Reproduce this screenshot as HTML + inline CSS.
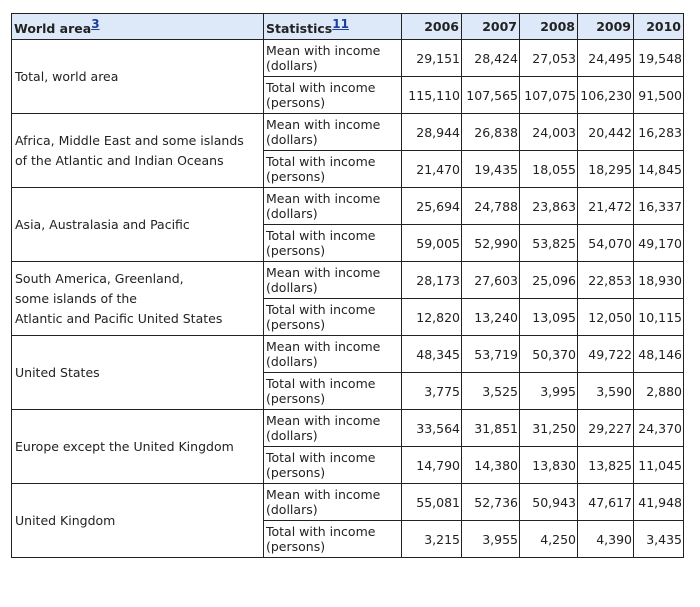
<!DOCTYPE html>
<html><head><meta charset="utf-8"><style>
body{margin:0;background:#fff;width:700px;height:607px;overflow:hidden;font-family:"DejaVu Sans","Liberation Sans",sans-serif;}
table{position:absolute;left:11px;top:13px;border-collapse:collapse;table-layout:fixed;width:672px;font-size:12.5px;color:#222;}
td,th{border:1px solid #222;padding:0 2px;overflow:hidden;white-space:nowrap;}
th{background:#dde9f8;height:25px;font-weight:bold;text-align:right;font-size:12.5px;}
th.l{text-align:left;}
td{height:36px;line-height:15px;}
td.n{text-align:right;padding-right:1px;}
td.s{padding-left:3px;}
sup a{color:#1a3e9c;text-decoration:underline;font-size:12px;}
</style></head><body>
<table>
<colgroup><col style="width:252px"><col style="width:138px"><col style="width:60px"><col style="width:58px"><col style="width:58px"><col style="width:56px"><col style="width:50px"></colgroup>
<thead><tr>
<th class="l">World area<sup><a>3</a></sup></th>
<th class="l">Statistics<sup><a>11</a></sup></th>
<th>2006</th>
<th>2007</th>
<th>2008</th>
<th>2009</th>
<th>2010</th>
</tr></thead>
<tbody id="tb"></tbody>
</table>
<script>
const areas=[["Total, world area"],["Africa, Middle East and some islands","of the Atlantic and Indian Oceans"],["Asia, Australasia and Pacific"],["South America, Greenland,","some islands of the","Atlantic and Pacific United States"],["United States"],["Europe except the United Kingdom"],["United Kingdom"]];
const meanVals=[[29151,28424,27053,24495,19548],[28944,26838,24003,20442,16283],[25694,24788,23863,21472,16337],[28173,27603,25096,22853,18930],[48345,53719,50370,49722,48146],[33564,31851,31250,29227,24370],[55081,52736,50943,47617,41948]];
const totalVals=[[115110,107565,107075,106230,91500],[21470,19435,18055,18295,14845],[59005,52990,53825,54070,49170],[12820,13240,13095,12050,10115],[3775,3525,3995,3590,2880],[14790,14380,13830,13825,11045],[3215,3955,4250,4390,3435]];
const stats=["Mean with income<br>(dollars)","Total with income<br>(persons)"];
const tb=document.getElementById('tb');
areas.forEach((a,i)=>{
 [meanVals[i],totalVals[i]].forEach((vals,k)=>{
  const tr=document.createElement('tr');
  
  
  if(k===0){
   const td=document.createElement('td');
   td.rowSpan=2;td.className='s';
   td.style.lineHeight='20px';
   td.innerHTML=a.join('<br>');
   
   
   tr.appendChild(td);
  }
  const st=document.createElement('td');
  st.innerHTML=stats[k];
  
  
  tr.appendChild(st);
  vals.forEach(v=>{
   const c=document.createElement('td');
   c.className='n';
   c.textContent=v.toLocaleString('en-US');
   
   
   tr.appendChild(c);
  });
  tb.appendChild(tr);
 });
});
</script>
</body></html>
